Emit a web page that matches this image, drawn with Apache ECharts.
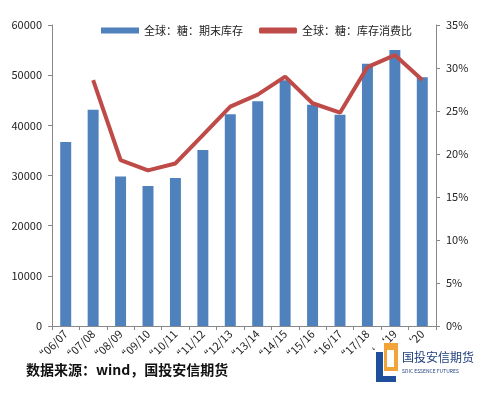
<!DOCTYPE html>
<html>
<head>
<meta charset="utf-8">
<script src="https://cdn.jsdelivr.net/npm/echarts@6/dist/echarts.min.js"></script>
<style>
  html, body { margin: 0; padding: 0; background: #fff; }
  #main { width: 496px; height: 399px; }
</style>
</head>
<body>
<div id="main"></div>
<script>
var seasons = ['\u201c06/07', '\u201c07/08', '\u201c08/09', '\u201c09/10', '\u201c10/11', '\u201c11/12',
  '\u201c12/13', '\u201c13/14', '\u201c14/15', '\u201c15/16', '\u201c16/17', '\u201c17/18', '\u2018 \u201819', '\u201820'];
var stocks = [36700, 43100, 29800, 27900, 29500, 35100, 42200, 44800, 49000, 44100, 42100, 52300, 55000, 49600];
var ratio = [null, 28.6, 19.3, 18.1, 18.9, 22.2, 25.5, 26.9, 29.0, 25.9, 24.8, 30.1, 31.5, 28.6];
var leftTicks = [0, 10000, 20000, 30000, 40000, 50000, 60000];
var rightTicks = [0, 5, 10, 15, 20, 25, 30, 35];

var chart = echarts.init(document.getElementById('main'));
var font = '"Noto Sans CJK SC", "Noto Sans", sans-serif';

chart.setOption({
  animation: false,
  textStyle: { fontFamily: font },
  legend: {
    top: 20,
    left: 96,
    itemGap: 16,
    itemWidth: 38,
    itemHeight: 6,
    textStyle: { fontSize: 11, color: '#222', fontFamily: '"Noto Sans CJK SC", serif' },
    data: [
      { name: '全球：糖：期末库存', icon: 'rect' },
      { name: '全球：糖：库存消费比', icon: 'roundRect', itemStyle: { color: '#BE4B48' } }
    ]
  },
  grid: { left: 52, right: 60, top: 25, bottom: 73 },
  xAxis: {
    type: 'category',
    data: seasons,
    axisLine: { lineStyle: { color: '#888' } },
    axisTick: { show: true, length: 4, lineStyle: { color: '#888' } },
    axisLabel: { rotate: 45, color: '#222', fontSize: 11, margin: 6, interval: 0 }
  },
  yAxis: [
    {
      type: 'value',
      min: leftTicks[0],
      max: leftTicks[leftTicks.length - 1],
      interval: 10000,
      axisLine: { show: true, lineStyle: { color: '#888' } },
      axisTick: { show: true, length: 4, lineStyle: { color: '#888' } },
      splitLine: { show: false },
      axisLabel: { color: '#222', fontSize: 11, margin: 10, formatter: function (v) { return String(v); } }
    },
    {
      type: 'value',
      min: rightTicks[0],
      max: rightTicks[rightTicks.length - 1],
      interval: 5,
      axisLine: { show: true, lineStyle: { color: '#888' } },
      axisTick: { show: true, length: 4, lineStyle: { color: '#888' } },
      splitLine: { show: false },
      axisLabel: { color: '#222', fontSize: 11, margin: 10, formatter: '{value}%' }
    }
  ],
  series: [
    {
      name: '全球：糖：期末库存',
      type: 'bar',
      data: stocks,
      barWidth: '40%',
      itemStyle: { color: '#4F81BD' }
    },
    {
      name: '全球：糖：库存消费比',
      type: 'line',
      yAxisIndex: 1,
      data: ratio,
      symbol: 'none',
      lineStyle: { color: '#BE4B48', width: 4 },
      itemStyle: { color: '#BE4B48' }
    }
  ],
  graphic: [
    {
      type: 'text',
      left: 26,
      top: 363,
      style: { text: '数据来源：wind，国投安信期货', fontSize: 14, fontWeight: 'bold', fill: '#111', fontFamily: font }
    },
    { type: 'rect', shape: { x: 376, y: 352, width: 7, height: 30 }, style: { fill: '#1F4E9A' } },
    { type: 'rect', shape: { x: 376, y: 376, width: 20, height: 6 }, style: { fill: '#1F4E9A' } },
    { type: 'rect', shape: { x: 384, y: 343, width: 14, height: 28 }, style: { fill: '#F2A33A' } },
    { type: 'rect', shape: { x: 387, y: 350, width: 7, height: 17 }, style: { fill: '#fff' } },
    {
      type: 'text', left: 402, top: 351,
      style: { text: '国投安信期货', fontSize: 12, fill: '#1F3F7A', fontFamily: font }
    },
    {
      type: 'text', left: 402, top: 369,
      style: { text: 'SDIC ESSENCE FUTURES', fontSize: 5, fill: '#1F3F7A', fontFamily: font }
    }
  ]
});
</script>
</body>
</html>
